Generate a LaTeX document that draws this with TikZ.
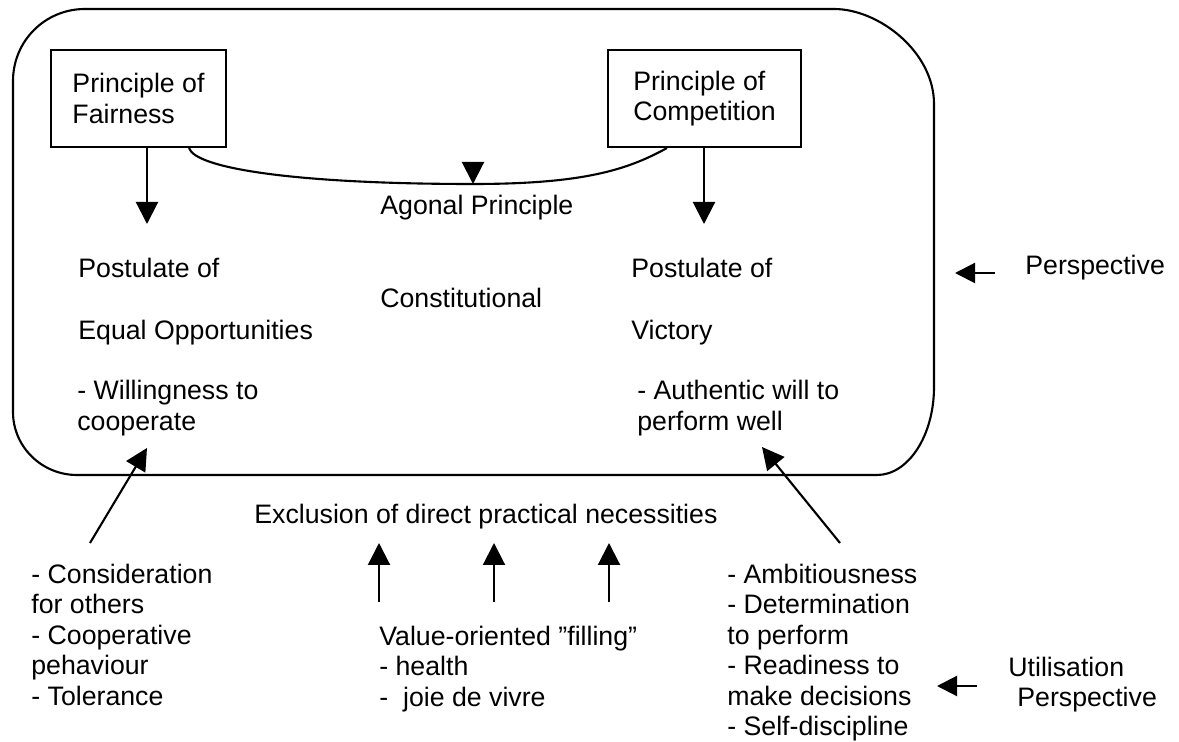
\documentclass[tikz,border=0pt]{standalone}
\usepackage{fontspec}
\setmainfont{Liberation Sans}
\usetikzlibrary{calc}
\usetikzlibrary{arrows.meta}
\tikzset{
  frame/.style={line width=1.2pt},
  pbox/.style={draw, line width=1.2pt, align=left, minimum height=19.4mm, inner sep=0pt},
  lbl/.style={anchor=base west, inner sep=0pt},
  arr/.style={line width=1.2pt, -{Triangle[length=4.4mm, width=4.4mm]}},
  sarr/.style={line width=1.2pt, -{Triangle[length=4mm, width=4mm]}}
}
\newcommand{\lablnode}[4]{\node[lbl] (#1) at ( #2 , #3 ) {#4};}
\newcommand{\lines}[1]{\begin{tabular}[t]{@{}l@{}}#1\end{tabular}}
\begin{document}
\begin{tikzpicture}[x=0.02cm, y=-0.02cm, font=\fontsize{15.2}{17.4}\selectfont]
        \useasboundingbox (0,0) rectangle (1179,742);
        % outer frame
        \draw[frame] (13,81) .. controls (13,41) and (45,9) .. (85,9) -- (834,9)
                .. controls (879,9) and (934,52) .. (934,104) -- (934,387)
                .. controls (934,436) and (908,475) .. (877,475) -- (77,475)
                .. controls (42,475) and (13,447) .. (13,412) -- cycle;
        \node[pbox, minimum width=35mm] (fair) at (138.5,98.5) {Principle of\\Fairness};
        \node[pbox, minimum width=38.6mm] (comp) at (704.5,98.5) {Principle of\\Competition};
        \lablnode{agonal}{380}{215}{Agonal Principle}
        \lablnode{postl}{78}{278}{Postulate of}
        \lablnode{constit}{380}{308}{Constitutional}
        \lablnode{equal}{78}{340}{Equal Opportunities}
        \lablnode{postr}{631}{278}{Postulate of}
        \lablnode{victory}{631}{340}{Victory}
        \lablnode{will}{77}{400}{\lines{- Willingness to\\cooperate}}
        \lablnode{auth}{637}{400}{\lines{- Authentic will to\\perform well}}
        \lablnode{persp}{1025}{275}{Perspective}
        \lablnode{excl}{254}{523}{Exclusion of direct practical necessities}
        \lablnode{consid}{31}{583}{\lines{- Consideration\\for others\\- Cooperative\\pehaviour\\- Tolerance}}
        \lablnode{value}{379}{645}{\lines{Value-oriented ”filling”\\- health\\- \ joie de vivre}}
        \lablnode{ambit}{727}{583}{\lines{- Ambitiousness\\- Determination\\to perform\\- Readiness to\\make decisions\\- Self-discipline}}
        \lablnode{util}{1008}{676}{\lines{Utilisation\\\hspace*{1.8mm}Perspective}}
        % connectors
        \coordinate (agmid) at (473,184);
        \draw[frame] ($(fair.south east)+(-38,0)$) .. controls +(6,20) and +(-180,0) .. (agmid)
                .. controls +(110,0) and +(-40,22) .. ($(comp.south west)+(60,0)$);
        \draw[arr] ($(agmid)+(0,-21)$) -- (agmid);
        \coordinate (fairtip) at (147,224);
        \coordinate (comptip) at (704,224);
        \draw[arr] (fair.south -| fairtip) -- (fairtip);
        \draw[arr] (comp.south -| comptip) -- (comptip);
        \coordinate (willtip) at (147,448);
        \coordinate (consend) at (90,543);
        \draw[arr] (consend) -- (willtip);
        \coordinate (authtip) at (762,447);
        \coordinate (ambend) at (840,543);
        \draw[arr] (ambend) -- (authtip);
        \foreach \x in {379,494,609} {
            \draw[arr] (\x,602) -- (\x,543);
        }
        \coordinate (persptip) at (955,273);
        \draw[sarr] ($(persptip)+(40,0)$) -- (persptip);
        \coordinate (utiltip) at (937,686);
        \draw[sarr] ($(utiltip)+(40,0)$) -- (utiltip);
\end{tikzpicture}
\end{document}
